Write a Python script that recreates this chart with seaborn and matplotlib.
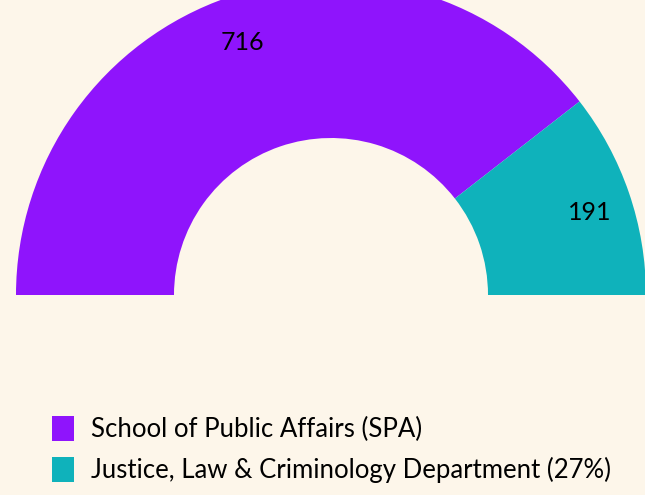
import matplotlib
matplotlib.use("Agg")
import matplotlib.pyplot as plt
from matplotlib.patches import Patch
import seaborn as sns

# data
departments = ["School of Public Affairs (SPA)", "Justice, Law & Criminology Department (27%)"]
counts = [716, 191]
colors = ["#8f14fc", "#0fb2bb"]
bg = "#fdf6ea"

sns.set_theme(style="white")
plt.rcParams['font.family'] = ['Lato', 'DejaVu Sans']

fig = plt.figure(figsize=(6.45, 4.95), dpi=100, facecolor=bg)
ax = fig.add_axes([0, 0, 1, 1])
ax.set_facecolor(bg)

total = sum(counts)
# hidden half so the ring only covers the top 180 degrees
vals = counts + [total]

def fmt(p):
    v = p * 2 * total / 100
    return "" if v > total - 0.5 else f"{v:.0f}"

wedges, texts, autotexts = ax.pie(vals, colors=colors + ["none"], startangle=180, counterclock=False,
                                  radius=315, center=(331, 200),
                                  wedgeprops=dict(width=158, linewidth=0),
                                  autopct=fmt, pctdistance=0.867,
                                  textprops=dict(fontsize=18, color="black"))

# nudge value labels down a little
for t in autotexts:
    x, y = t.get_position()
    t.set_position((x, y - 6))

ax.set_xlim(0, 645)
ax.set_ylim(0, 495)
ax.set_aspect('auto')
ax.axis('off')

handles = [Patch(facecolor=c, edgecolor='none') for c in colors]
leg = fig.legend(handles, departments, loc='upper left', bbox_to_anchor=(52 / 645, 1 - 416 / 495),
                 frameon=False, fontsize=18.5, borderpad=0, borderaxespad=0,
                 handlelength=0.85, handleheight=1.1, handletextpad=0.65, labelspacing=0.58)
for t in leg.get_texts():
    t.set_color("black")

plt.savefig("out.png", dpi=100, facecolor=bg)
